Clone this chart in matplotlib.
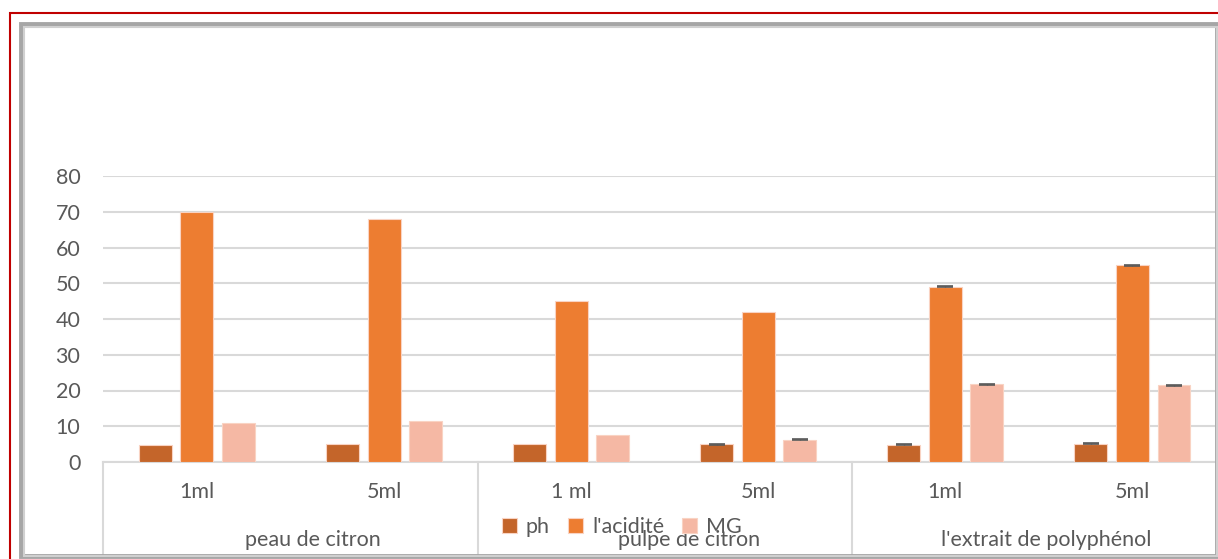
#! /usr/bin/env python3

import numpy as np
import matplotlib
matplotlib.use('Agg')
import matplotlib.pyplot as plt
from matplotlib.patches import Rectangle
from matplotlib.lines import Line2D

# data
groups = ['peau de citron', 'pulpe de citron', "l'extrait de polyphénol"]
doses = ['1ml', '5ml', '1 ml', '5ml', '1ml', '5ml']
series = ['ph', "l'acidité", 'MG']
ph = [4.8, 5.0, 5.0, 5.0, 4.8, 5.1]
acidite = [70, 68, 45, 42, 49, 55]
mg = [11.0, 11.5, 7.5, 6.2, 21.8, 21.5]
err_ph = [0, 0, 0, 0.15, 0.15, 0.15]
err_acidite = [0, 0, 0, 0, 0.15, 0.15]
err_mg = [0, 0, 0, 0.15, 0.15, 0.15]
yticks = [0, 10, 20, 30, 40, 50, 60, 70, 80]

colors = ['#C4652A', '#ED7D31', '#F5B8A4']
txt = '#595959'
grid = '#D9D9D9'
fs = 15.5

plt.rcParams['font.family'] = ['Lato', 'DejaVu Sans']

W, H = 1218, 559
fig = plt.figure(figsize=(W / 100, H / 100), dpi=100)

###########################################
# axes placed in pixel coords
x0, x1 = 103.4, 1215
y0, y1 = 462, 176
ax = fig.add_axes([x0 / W, 1 - y0 / H, (x1 - x0) / W, (y0 - y1) / H])

x = np.arange(len(doses))
bw = 0.176
step = 0.222
vals = [ph, acidite, mg]
errs = [err_ph, err_acidite, err_mg]
for i, (v, e) in enumerate(zip(vals, errs)):
    pos = x + (i - 1) * step
    ax.bar(pos, v, bw, color=colors[i], edgecolor='#F9D3C3', linewidth=0.8,
           label=series[i], zorder=3)
    e = np.array(e)
    m = e > 0
    ax.errorbar(pos[m], np.array(v)[m], yerr=e[m], fmt='none', ecolor=txt,
                elinewidth=1, capsize=6, capthick=1.2, zorder=4)

ax.set_xlim(-0.5, 5.5 - 11 / 187.2)
ax.set_ylim(0, 80)
ax.set_yticks(yticks)
ax.set_yticklabels([str(t) for t in yticks])
ax.yaxis.grid(True, color=grid, linewidth=1.5, zorder=0)
ax.set_axisbelow(True)
for s in ['top', 'right', 'left']:
    ax.spines[s].set_visible(False)
ax.spines['bottom'].set_color(grid)
ax.spines['bottom'].set_linewidth(1.5)
ax.tick_params(axis='y', length=0, labelsize=fs, labelcolor=txt, pad=16.5)
ax.tick_params(axis='x', length=0, labelbottom=False)

# multi-level category axis
tr = ax.get_xaxis_transform()
ah = y0 - y1
for i, d in enumerate(doses):
    ax.text(x[i], -(492 - y0) / ah, d, transform=tr, ha='center', va='center',
            fontsize=fs, color=txt)
# group labels sit a little right of their span centre, as in the original
shift = [0.12, 0.13, 0.04]
for g, name in enumerate(groups):
    ax.text(2 * g + 0.5 + shift[g], -(540 - y0) / ah, name, transform=tr,
            ha='center', va='center', fontsize=fs, color=txt)
for b in [-0.5, 1.5, 3.5]:
    ax.add_line(Line2D([b, b], [0, -(555 - y0) / ah], transform=tr, color=grid,
                       linewidth=1.5, clip_on=False))

# legend
fig.legend(loc='center', bbox_to_anchor=(622 / W, 1 - 527 / H), ncol=3,
           frameon=False, fontsize=fs, labelcolor=txt, handlelength=0.7,
           handleheight=0.7, handletextpad=0.4, columnspacing=0.85,
           borderpad=0)

# frame: red outline plus grey inner shadow
def px_rect(xa, ya, xb, yb, **kw):
    r = Rectangle((xa / W, 1 - yb / H), (xb - xa) / W, (yb - ya) / H,
                  transform=fig.transFigure, fill=False, **kw)
    fig.add_artist(r)

px_rect(10, 13, W + 20, H + 20, edgecolor='#C00000', linewidth=1.5)
px_rect(21, 24, 1216.5, 556, edgecolor='#A6A6A6', linewidth=3.5)
px_rect(24, 27, 1216.5, 556, edgecolor='#D0D0D0', linewidth=1.5)

fig.savefig('out.png', dpi=100)
